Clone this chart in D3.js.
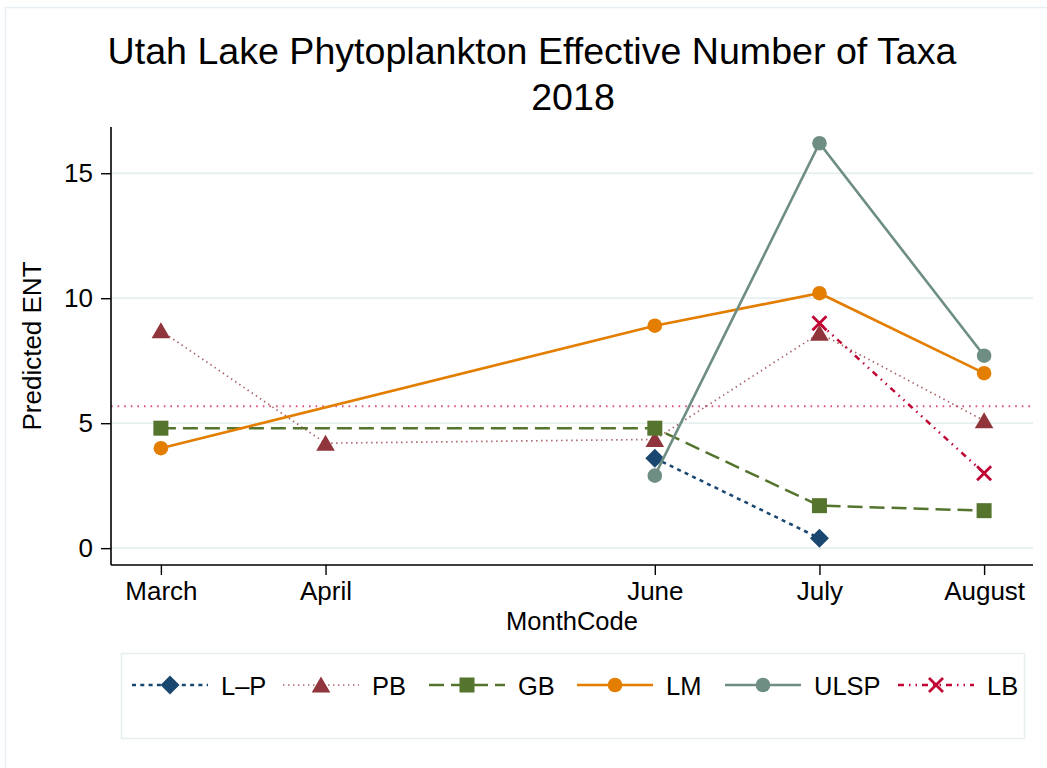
<!DOCTYPE html>
<html>
<head>
<meta charset="utf-8">
<script src="https://cdn.jsdelivr.net/npm/d3@7"></script>
<style>
  html, body { margin: 0; padding: 0; background: #ffffff; }
  svg { display: block; }
  text { font-family: "Liberation Sans", Arial, Helvetica, sans-serif; fill: #000; }
</style>
</head>
<body>
<svg id="chart" width="1047" height="768"></svg>
<script>
// Sampling months (numeric month code) and their labels
const monthCodes = [3, 4, 6, 7, 8];
const monthLabels = ["March", "April", "June", "July", "August"];

// Predicted effective number of taxa per site (null = not sampled)
const lpValues   = [null, null, 3.6, 0.4, null];
const pbValues   = [8.7, 4.2, 4.35, 8.6, 5.1];
const gbValues   = [4.8, null, 4.8, 1.7, 1.5];
const lmValues   = [4.0, null, 8.9, 10.2, 7.0];
const ulspValues = [null, null, 2.9, 16.2, 7.7];
const lbValues   = [null, null, null, 9.0, 3.0];

const siteNames = ["L\u2013P", "PB", "GB", "LM", "ULSP", "LB"];
const yTicks = [0, 5, 10, 15];
const overallMean = 5.68;

const titleLine1 = "Utah Lake Phytoplankton Effective Number of Taxa";
const titleLine2 = "2018";
const xTitle = "MonthCode";
const yTitle = "Predicted ENT";

// Per-series styling
const seriesValues = [lpValues, pbValues, gbValues, lmValues, ulspValues, lbValues];
const styles = [
  { color: "#1a476f", dash: "4,4.3", width: 2.6, marker: "diamond" },
  { color: "#90353b", dash: "1.4,3.6", width: 1.7, marker: "triangle", lineOpacity: 0.8 },
  { color: "#55752f", dash: "15,7", width: 2.5, marker: "square" },
  { color: "#e37e00", dash: null, width: 2.6, marker: "circle" },
  { color: "#6e8e84", dash: null, width: 2.6, marker: "circle" },
  { color: "#c10534", dash: "6,5,1.5,5,1.5,5", width: 2.5, marker: "x" }
];

const svg = d3.select("#chart");

// Outer graph frame
svg.append("rect")
  .attr("x", 5.5).attr("y", 7.5).attr("width", 1060).attr("height", 780)
  .attr("fill", "#ffffff").attr("stroke", "#e8eff2").attr("stroke-width", 1.5);

const plot = { left: 111, right: 1033, top: 127, bottom: 565 };

const x = d3.scaleLinear().domain([2.697, 8.297]).range([plot.left, plot.right]);
const y = d3.scaleLinear().domain([-0.674, 16.85]).range([plot.bottom, plot.top]);

// Gridlines
svg.append("g").selectAll("line").data(yTicks).join("line")
  .attr("x1", plot.left).attr("x2", plot.right)
  .attr("y1", d => y(d)).attr("y2", d => y(d))
  .attr("stroke", "#e6f0f1").attr("stroke-width", 1.8);

// Reference line at the overall mean
svg.append("line")
  .attr("x1", plot.left).attr("x2", plot.right)
  .attr("y1", y(overallMean)).attr("y2", y(overallMean))
  .attr("stroke", "#d9557a").attr("stroke-width", 2)
  .attr("stroke-dasharray", "1.6,5");

// Axes
const yAxis = d3.axisLeft(y).tickValues(yTicks).tickSize(10).tickPadding(8).tickFormat(d3.format("d"));
const gy = svg.append("g").attr("transform", `translate(${plot.left},0)`).call(yAxis);
gy.select(".domain").attr("d", `M0,${plot.top}V${plot.bottom}`).attr("stroke", "#000").attr("stroke-width", 1.6);
gy.selectAll(".tick line").attr("stroke", "#000").attr("stroke-width", 1.4);
gy.selectAll(".tick text").attr("font-size", 26).attr("font-family", "Liberation Sans, Arial, sans-serif").attr("fill", "#000");

const xAxis = d3.axisBottom(x).tickValues(monthCodes).tickSize(10).tickPadding(7)
  .tickFormat((d, i) => monthLabels[i]);
const gx = svg.append("g").attr("transform", `translate(0,${plot.bottom})`).call(xAxis);
gx.select(".domain").attr("d", `M${plot.left},0H${plot.right}`).attr("stroke", "#000").attr("stroke-width", 1.6);
gx.selectAll(".tick line").attr("stroke", "#000").attr("stroke-width", 1.4);
gx.selectAll(".tick text").attr("font-size", 26).attr("font-family", "Liberation Sans, Arial, sans-serif").attr("fill", "#000");

// Axis titles
svg.append("text").attr("x", 572).attr("y", 630).attr("text-anchor", "middle")
  .attr("font-size", 25.5).text(xTitle);
svg.append("text").attr("transform", `translate(41,${(plot.top + plot.bottom) / 2}) rotate(-90)`)
  .attr("text-anchor", "middle")
  .attr("font-size", 26).text(yTitle);

// Title
svg.append("text").attr("x", 532).attr("y", 64).attr("text-anchor", "middle")
  .attr("font-size", 37.6).text(titleLine1);
svg.append("text").attr("x", 573).attr("y", 110).attr("text-anchor", "middle")
  .attr("font-size", 37.6).text(titleLine2);

// Marker drawing
function drawMarker(g, kind, color) {
  if (kind === "diamond") {
    g.append("path").attr("d", "M0,-9.5L9.5,0L0,9.5L-9.5,0Z").attr("fill", color);
  } else if (kind === "triangle") {
    g.append("path").attr("d", "M0,-8.5L9.3,7.5L-9.3,7.5Z").attr("fill", color);
  } else if (kind === "square") {
    g.append("rect").attr("x", -7.5).attr("y", -7.5).attr("width", 15).attr("height", 15).attr("fill", color);
  } else if (kind === "circle") {
    g.append("circle").attr("r", 7.3).attr("fill", color);
  } else if (kind === "x") {
    g.append("path").attr("d", "M-7,-7L7,7M-7,7L7,-7").attr("stroke", color).attr("stroke-width", 2.8).attr("fill", "none");
  }
}

const line = d3.line()
  .defined(d => d.v !== null)
  .x(d => x(d.m))
  .y(d => y(d.v));

seriesValues.forEach((vals, si) => {
  const st = styles[si];
  const pts = vals.map((v, i) => ({ m: monthCodes[i], v })).filter(d => d.v !== null);
  const g = svg.append("g");
  g.append("path").datum(pts)
    .attr("d", line)
    .attr("fill", "none")
    .attr("stroke", st.color)
    .attr("stroke-width", st.width)
    .attr("stroke-opacity", st.lineOpacity || 1)
    .attr("stroke-dasharray", st.dash);
  pts.forEach(d => {
    const mg = g.append("g").attr("transform", `translate(${x(d.m)},${y(d.v)})`);
    drawMarker(mg, st.marker, st.color);
  });
});

// Legend
const legendBox = { x: 121, y: 653, w: 903, h: 85 };
svg.append("rect")
  .attr("x", legendBox.x + 0.5).attr("y", legendBox.y + 0.5)
  .attr("width", legendBox.w).attr("height", legendBox.h)
  .attr("fill", "#ffffff").attr("stroke", "#e6eef0").attr("stroke-width", 1.5);

const legendKeyStarts = [132, 283, 429, 577, 725, 898];
const keyLen = 76;
const keyY = 685;
siteNames.forEach((name, i) => {
  const st = styles[i];
  const x0 = legendKeyStarts[i];
  const g = svg.append("g");
  g.append("line")
    .attr("x1", x0).attr("x2", x0 + keyLen).attr("y1", keyY).attr("y2", keyY)
    .attr("stroke", st.color).attr("stroke-width", st.width)
    .attr("stroke-opacity", st.lineOpacity || 1)
    .attr("stroke-dasharray", st.dash);
  const mg = g.append("g").attr("transform", `translate(${x0 + keyLen / 2},${keyY})`);
  drawMarker(mg, st.marker, st.color);
  g.append("text").attr("x", x0 + keyLen + 13).attr("y", 695)
    .attr("font-size", 25.5).text(name);
});
</script>
</body>
</html>
